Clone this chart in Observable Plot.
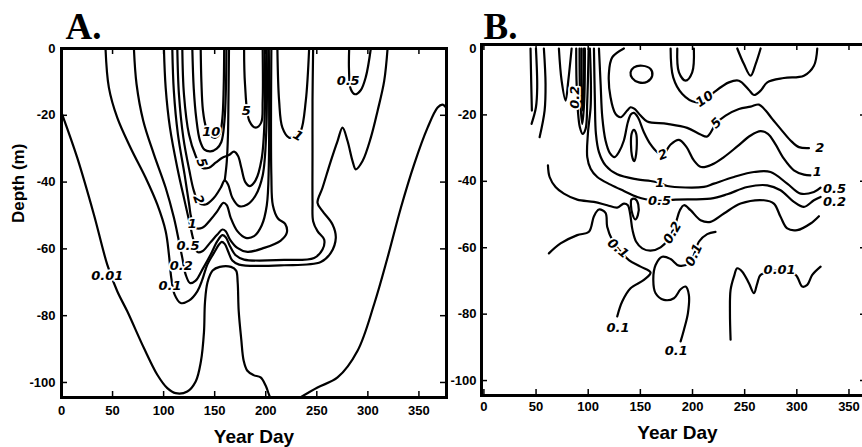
<!DOCTYPE html>
<html><head><meta charset="utf-8">
<script src="https://cdn.jsdelivr.net/npm/d3@7"></script>
<script src="https://cdn.jsdelivr.net/npm/@observablehq/plot@0.6"></script>
<style>
html,body{margin:0;padding:0;background:#fff;overflow:hidden;}
#wrap{position:relative;width:862px;height:447px;overflow:hidden;background:#fff;}
#wrap svg{position:absolute;top:0;overflow:visible;}
</style></head><body><div id="wrap"></div>
<script>
// ---------- shared axis values ----------
const xTicks = [0, 50, 100, 150, 200, 250, 300, 350];
const yTicks = [0, -20, -40, -60, -80, -100];
const xAxisTitle = "Year Day";
const yAxisTitle = "Depth (m)";

// ---------- Panel A contours: [year day, depth m] ----------
const A_c001 = [[0,-19.2],[15.4,-32.7],[31.7,-49.7],[44.8,-64.7],[54.6,-72.7],[64.4,-78.7],[80.7,-89.7],[93.8,-97.7],[103.6,-101.7],[111.8,-103.2],[123.2,-102.7],[131.4,-99.7],[136.5,-93.7],[139.5,-85],[140.5,-76],[143,-70],[148,-66.5],[155,-65.4],[166,-65.4],[171,-66.5],[172.5,-70],[173.5,-78.5],[176,-87],[178.4,-93.5],[182,-96.5],[188,-97.8],[195,-98.5],[200,-101],[203,-103.5],[205,-105]];
const A_c001r = [[231,-105],[250.7,-101.5],[270.3,-98.5],[289.9,-90.5],[306.2,-76.5],[319.3,-62.6],[332.4,-47.6],[345.4,-34.6],[358.5,-23.7],[368.3,-17.7],[373,-16.8],[377,-17.8]];
const A_c01 = [[43.1,0],[46.4,-11.7],[54.6,-20.7],[67.6,-29.7],[82.4,-38.7],[93.8,-46.7],[102,-54.7],[105.2,-61.7],[107.5,-68.7],[110.8,-73.7],[116.7,-76.2],[124.8,-75.5],[133,-72.7],[137.9,-69.2],[142.8,-64.7],[149.3,-61.2],[154.2,-58.7],[156.9,-57.9],[159.8,-58.5],[163.1,-60.7],[167.3,-63.5],[173.9,-64.7],[218,-64.9],[253.9,-63.9],[263.7,-61.2],[268.6,-56.7],[265.4,-52.7],[255.6,-48.7],[250.7,-46.2],[255.6,-41.7],[263.7,-33.7],[270.3,-27.7],[275.2,-23.7],[280.1,-27.7],[285,-33.7],[288.2,-36.2],[294.8,-33.7],[302.9,-26.7],[309.5,-18.7],[316,-9.7],[319.3,0]];
const A_c02 = [[70.9,0],[73.5,-10.7],[80.1,-21.7],[90.5,-31.7],[102,-41.7],[110.1,-50.7],[115,-57.7],[118.3,-62.7],[121.6,-67.7],[125.8,-70.2],[131.4,-69.5],[137.9,-66.2],[146.1,-61.7],[152.6,-57.7],[157.5,-55.9],[160.8,-56.5],[165,-59.2],[170.6,-61.9],[178.8,-63.2],[218,-63.3],[247.4,-62.7],[255.6,-60.2],[257.2,-57.2],[250.7,-54.7],[246.4,-51.7],[245.8,-45.7],[245.8,-30.7],[245.8,-15.7],[246.4,0]];
const A_c05 = [[100.3,0],[102,-11.7],[106.2,-23.7],[113.4,-35.7],[120.6,-45.7],[125.8,-52.7],[129.1,-57.2],[133,-60.9],[137.9,-60.7],[145.4,-58.2],[152.6,-55.7],[157.5,-54.2],[160.8,-54.7],[165,-57.2],[172.2,-59.7],[182,-60.9],[198.4,-59.7],[214.7,-57.5],[220.6,-55.2],[219,-52.5],[212,-50.9],[207,-47],[205.5,-38],[205.5,0]];
const A_c1 = [[108.5,0],[110,-12.7],[114,-25.7],[120.5,-37.7],[125,-46.7],[127.1,-50.7],[131.4,-53.7],[137.9,-53.7],[146.1,-51.2],[152.6,-48.7],[158.5,-46.2],[161.8,-46.9],[165.7,-50.7],[172.2,-54.7],[180.4,-56.7],[188.6,-56.2],[196,-53],[201,-47],[203,-35],[203,0]];
const A_c2 = [[113.4,0],[115,-13.7],[119.3,-26.7],[125.3,-36.7],[129.7,-42.7],[134.6,-46.2],[141.2,-46.7],[149.3,-44.7],[155.9,-41.7],[159.8,-39.5],[163.1,-40.7],[167.3,-44.7],[173.9,-47.2],[182,-46.7],[190,-44],[197,-38],[200.5,-25],[201,0]];
const A_c5 = [[118.3,0],[119.9,-13.7],[124.8,-25.7],[131.4,-32.2],[137.9,-35.7],[144.4,-35.7],[150.9,-34.2],[157.5,-32.7],[164,-31.9],[168.9,-30.9],[172.9,-32.2],[176.1,-35.7],[180,-40],[184.5,-41.2],[190,-39.5],[196,-33],[199,-20],[199,0]];
const A_cX = [[128.1,0],[129.5,-12],[132,-21],[135.5,-27.5],[140,-30.3],[146,-30.8],[152,-30],[156.5,-28],[159.5,-22],[161,-12],[161.5,0]];
const A_c10 = [[136.3,0],[137,-10],[138.5,-18.5],[141.5,-23.5],[146.1,-26.2],[151,-26.7],[155,-25.5],[157.5,-21],[158.8,-12],[159.3,0]];
const A_div = [[159.8,-39.6],[161.8,-34],[163,-26],[163.5,-15],[164,0]];
const A_c5u = [[178.8,0],[179.7,-10.7],[184,-21.7],[190.2,-23.7],[195.5,-22.2],[197,-15.7],[197,0]];
const A_c1u = [[211.4,0],[213.1,-15.7],[216.3,-23.7],[222.9,-26.7],[229.4,-26.2],[234.3,-24.7],[239.2,-15.7],[242.5,0]];
const A_c05u = [[281.7,0],[281.5,-6],[283.3,-12.2],[287.5,-13.7],[293,-12.5],[298,-8.5],[302.9,0]];

const A_labelText = ["0.01","0.1","0.2","0.5","1","2","5","10","5","1","0.5"];
const A_labelDay  = [44.8,106.2,117.3,123.9,128.1,134,137.3,146.7,181,231.7,280.7];
const A_labelDep  = [-68,-71.2,-65.2,-59,-52.5,-45.2,-34.2,-24.9,-18.7,-26.2,-9.7];
const A_labelRot  = [0,0,0,0,0,70,70,0,0,30,0];

// ---------- Panel B contours ----------
const B_a = [[44.7,0],[45.4,-10.7],[46,-18.7]];
const B_b = [[49.9,0],[51.1,-11.7],[49.9,-17.7],[45.7,-22.7]];
const B_c = [[57.5,0],[59.1,-10.7],[58.2,-18.7],[53.4,-26.7]];
const B_v1 = [[71.9,0],[74.5,-9.7],[78.3,-15.7],[80.9,-9.7],[84.1,0]];
const B_col02 = [[88.5,0],[88.8,-9.7],[90.1,-18.7],[92,-23.7],[94.6,-25.7],[97.5,-24.2],[99.1,-15.7],[100.4,0]];
const B_colA = [[91.7,0],[92.4,-15.7],[94.3,-22.7],[96.2,-15.7],[96.8,0]];
const B_colB = [[93.6,0],[94,-15.7],[94.9,-18.7],[95.6,-15.7],[95.9,0]];
const B_c10 = [[179,0],[181.5,-8.7],[190.2,-13.7],[202.9,-16.2],[210.9,-15.7],[220.5,-13.2],[234.9,-10.2],[244.5,-9.7],[254.1,-12.5],[258.9,-14],[265.3,-12.7],[271.7,-10.2],[287.6,-8.9],[306.8,-8.2],[316.4,-5.2],[319.6,0]];
const B_u = [[185.4,0],[187,-7.2],[193.4,-9.7],[199.7,-7.2],[201.3,0]];
const B_v2 = [[242.9,0],[249.3,-4.7],[255.7,-8.2],[260.5,-4.7],[265.3,0]];
const B_c5 = [[134.2,0],[123,-2.7],[119.8,-7.7],[121.4,-14.7],[126.2,-19.7],[131,-20.7],[137.4,-18.7],[140.6,-17.7],[144.5,-18.2],[150.2,-20.2],[156.6,-22],[175.8,-22.7],[194.9,-23.9],[207.7,-25.9],[214.1,-26.5],[222.8,-22.5],[231.7,-20.2],[244.5,-18.2],[255.7,-17.5],[263.7,-16.9],[270.1,-18.7],[276.4,-21.2],[284.4,-24.2],[294,-27.7],[302,-29.7],[311.6,-30]];
const B_c2 = [[110.3,0],[111.9,-10.7],[113.5,-20.7],[116.6,-27.7],[120.8,-31.5],[125.3,-32.7],[129.4,-31.2],[134.2,-27.7],[138,-22.2],[141,-19.8],[143.8,-19.4],[147.6,-20.7],[153.4,-25.2],[159.8,-28.9],[166.2,-31.2],[171.6,-32],[179,-28.9],[187,-27.5],[194.3,-29.7],[201.3,-33.7],[208.4,-35.7],[218.9,-34.9],[230.1,-32.7],[242.9,-29.5],[255.7,-26.2],[265.3,-24.9],[272.3,-25.7],[279.6,-28.9],[287.6,-33.2],[297.2,-36.7],[306.8,-38],[313.2,-38.2]];
const B_c1 = [[105.5,0],[106.4,-15.7],[107.4,-25.7],[110.3,-31.2],[116.6,-35.2],[127.8,-37.9],[147,-39.4],[159.8,-39.9],[168.7,-40.5],[175.8,-41.4],[210.9,-41.7],[220.5,-40.7],[239.7,-38.7],[258.9,-37.2],[274.8,-37.2],[290.8,-40.7],[303.6,-43.7],[316.4,-43.2],[322.8,-41.9]];
const B_c05 = [[101.6,0],[102.6,-10.7],[102.3,-17.7],[99.7,-25.7],[99.1,-32.7],[102.3,-36.2],[108.7,-38.7],[121.4,-41],[134.2,-42.9],[147,-44.7],[155,-45.4],[168.4,-45.9],[183.8,-45.5],[217.3,-45.2],[233.3,-43.9],[252.5,-41.7],[271.7,-41.2],[284.4,-42.7],[297.2,-46.2],[306.8,-47.7],[316.4,-45.7],[322.8,-44.7]];
const B_c02 = [[61.4,-35.2],[63,-38.7],[68.7,-41.7],[76.7,-43.7],[89.5,-45.5],[105.5,-46.2],[118.2,-47.2],[127.8,-47.9],[134.2,-46.7],[138,-47.2],[140.3,-50],[142.5,-54.7],[146,-58.2],[151.8,-60.2],[159.8,-60.9],[169.4,-59.9],[177.4,-57.2],[183.8,-52.7],[187.9,-48.7],[191.8,-47.2],[198.1,-48.7],[207.7,-51.7],[217.3,-52.2],[230.1,-49.7],[246.1,-46.7],[268.5,-45.7],[278,-46.7],[284.4,-50.7],[290.8,-54.2],[300.4,-54.7],[313.2,-52.7],[321.2,-50.5]];
const B_c01l = [[62.3,-61.7],[73.5,-58.7],[89.5,-56.2],[100.7,-55.2],[105.5,-50.5],[110.3,-48.5],[116.6,-49.5],[118.2,-53.7],[123,-57.7],[128.5,-60.2],[139,-63.7],[150.2,-65.7],[159.8,-67.5],[153.4,-69.7],[140.6,-72.2],[132.6,-76.2],[127.8,-80.7]];
const B_c01c = [[222,-55.2],[214.1,-55.9],[206.1,-58.2],[201.3,-62.2],[196.5,-64.7],[187,-65.4],[179,-63.4],[171,-62.7],[164.6,-65.2],[162.4,-69.7],[164.6,-73.7],[172.6,-75.7],[182.2,-75.2],[188.6,-72.5],[193.4,-71.7],[196.5,-74.2],[195.6,-79.7],[191.8,-84.7],[188.6,-88.2]];
const B_c001 = [[236.5,-87.7],[235.9,-79.7],[236.5,-72.7],[239.7,-68.7],[242.9,-66.2],[247.7,-67.2],[254.1,-70.7],[258.9,-73.7],[262.1,-70.7],[265.3,-68.2],[282.8,-66.9],[298.8,-68.2],[305.2,-71.7],[310,-71.2],[314.8,-68.2],[322.8,-65.7]];
// closed loops
const B_ovalTop = [[140.6,-7.2],[143.8,-5.7],[151.8,-5.2],[159.8,-6.2],[161.4,-8.2],[156.6,-10],[148.6,-10.2],[142.2,-8.9]];
const B_ovalMid = [[141.6,-25.7],[143.8,-24.5],[146,-25.7],[146,-31.7],[144.1,-33.9],[141.9,-32.2]];
const B_ovalLow = [[141.5,-45.5],[145,-45.3],[148,-47],[147.6,-50.2],[145,-51.5],[142.5,-50],[141,-47.3]];

const B_labelText = ["0.2","10","5","2","2","1","1","0.5","0.5","0.2","0.2","0.1","0.1","0.1","0.1","0.01"];
const B_labelDay  = [86.9,211.6,222.8,171.6,322.1,168.7,319.6,168.4,336.2,336.2,180.6,201.3,128.5,128.5,184.4,283.5];
const B_labelDep  = [-14.7,-15.2,-22.5,-32,-29.9,-40.5,-37.2,-45.9,-42.4,-46.2,-55.5,-62.2,-60.2,-84.2,-90.9,-66.7];
const B_labelRot  = [-90,-35,-45,-20,0,0,0,0,0,0,-60,-65,40,0,0,0];

// ---------- helpers ----------
const FONT = "'Liberation Sans', Arial, Helvetica, sans-serif";
const LFONT = "'DejaVu Sans', 'Liberation Sans', sans-serif";
const rows = (lines) => lines.flatMap(([id, pts]) => pts.map(([day, depth]) => ({id, day, depth})));
const labels = (t, d, p, r) => t.map((s, i) => ({t: s, x: d[i], y: p[i], r: r[i]}));

function panel(o) {
  const innerW = o.width - o.ml - o.mr, innerH = o.height - o.mt - o.mb;
  const inner = yTicks.filter(d => d !== 0);
  const marks = [
    Plot.line(rows(o.open), {x: "day", y: "depth", z: "id", curve: "catmull-rom", stroke: "black", strokeWidth: 2.2, strokeLinejoin: "round", clip: true}),
    Plot.line(rows(o.closed), {x: "day", y: "depth", z: "id", curve: "catmull-rom-closed", stroke: "black", strokeWidth: 2.2, clip: true}),
    Plot.text(o.labels, {x: "x", y: "y", text: "t", rotate: "r", fontSize: 13, fontStyle: "italic", fontWeight: "bold", fontFamily: LFONT, fill: "black", stroke: "white", strokeWidth: 3.5, paintOrder: "stroke"}),
    Plot.tickX(xTicks, {x: d => d, insetTop: innerH - 6, stroke: "black", strokeWidth: 1.5}),
    Plot.tickX(xTicks, {x: d => d, insetBottom: innerH - 6, stroke: "black", strokeWidth: 1.5}),
    Plot.tickY(inner, {y: d => d, insetRight: innerW - 6, stroke: "black", strokeWidth: 1.5}),
    Plot.tickY(inner, {y: d => d, insetLeft: innerW - 6, stroke: "black", strokeWidth: 1.5}),
    Plot.frame({stroke: "black", strokeWidth: 3}),
    Plot.text([o.title], {text: d => d, frameAnchor: "top-left", dx: o.titleDx, dy: o.titleDy, lineAnchor: "bottom", textAnchor: "start", fontSize: 37, fontWeight: "bold", fontFamily: "'Liberation Serif', 'Times New Roman', serif", fill: "black"}),
    Plot.text([xAxisTitle], {text: d => d, frameAnchor: "bottom", dx: o.xtDx, dy: o.xtDy, lineAnchor: "bottom", fontSize: 19, fontWeight: "bold", fill: "black"})
  ];
  if (o.ytitle) marks.push(Plot.text([yAxisTitle], {text: d => d, frameAnchor: "left", dx: -37.5, rotate: -90, lineAnchor: "bottom", fontSize: 17, fontWeight: "bold", fill: "black"}));
  return Plot.plot({
    width: o.width, height: o.height,
    marginLeft: o.ml, marginRight: o.mr, marginTop: o.mt, marginBottom: o.mb,
    x: {domain: o.xd, ticks: xTicks, tickSize: 0, tickPadding: o.xpad, tickFormat: d => String(d), label: null},
    y: {domain: o.yd, ticks: yTicks, tickSize: 0, tickPadding: o.ypad, tickFormat: d => String(d), label: null},
    style: {fontFamily: FONT, fontSize: "13px", fontWeight: "bold", color: "black", background: "transparent", overflow: "visible"},
    marks
  });
}

const wrap = document.getElementById("wrap");
const svgB = panel({
  width: 447, height: 447, ml: 51, mr: 11, mt: 44, mb: 52,
  xd: [-2.3, 366.8], yd: [-104.5, 1.2], xpad: 6, ypad: 5,
  title: "B.", titleDx: 2, titleDy: -6, xtDx: 3.5, xtDy: 43, ytitle: false,
  open: [["a",B_a],["b",B_b],["c",B_c],["v1",B_v1],["col02",B_col02],["colA",B_colA],["colB",B_colB],["c10",B_c10],["u",B_u],["v2",B_v2],["c5",B_c5],["c2",B_c2],["c1",B_c1],["c05",B_c05],["c02",B_c02],["c01l",B_c01l],["c01c",B_c01c],["c001",B_c001]],
  closed: [["o1",B_ovalTop],["o2",B_ovalMid],["o3",B_ovalLow]],
  labels: labels(B_labelText, B_labelDay, B_labelDep, B_labelRot)
});
svgB.style.left = "430px";
const svgA = panel({
  width: 452, height: 447, ml: 61, mr: 6, mt: 48, mb: 50,
  xd: [0, 377], yd: [-104.5, 0], xpad: 8, ypad: 6,
  title: "A.", titleDx: 4, titleDy: -10, xtDx: 0, xtDy: 45, ytitle: true,
  open: [["c001",A_c001],["c001r",A_c001r],["c01",A_c01],["c02",A_c02],["c05",A_c05],["c1",A_c1],["c2",A_c2],["c5",A_c5],["cX",A_cX],["c10",A_c10],["div",A_div],["c5u",A_c5u],["c1u",A_c1u],["c05u",A_c05u]],
  closed: [],
  labels: labels(A_labelText, A_labelDay, A_labelDep, A_labelRot)
});
svgA.style.left = "0px";
wrap.append(svgB, svgA);
</script></body></html>
